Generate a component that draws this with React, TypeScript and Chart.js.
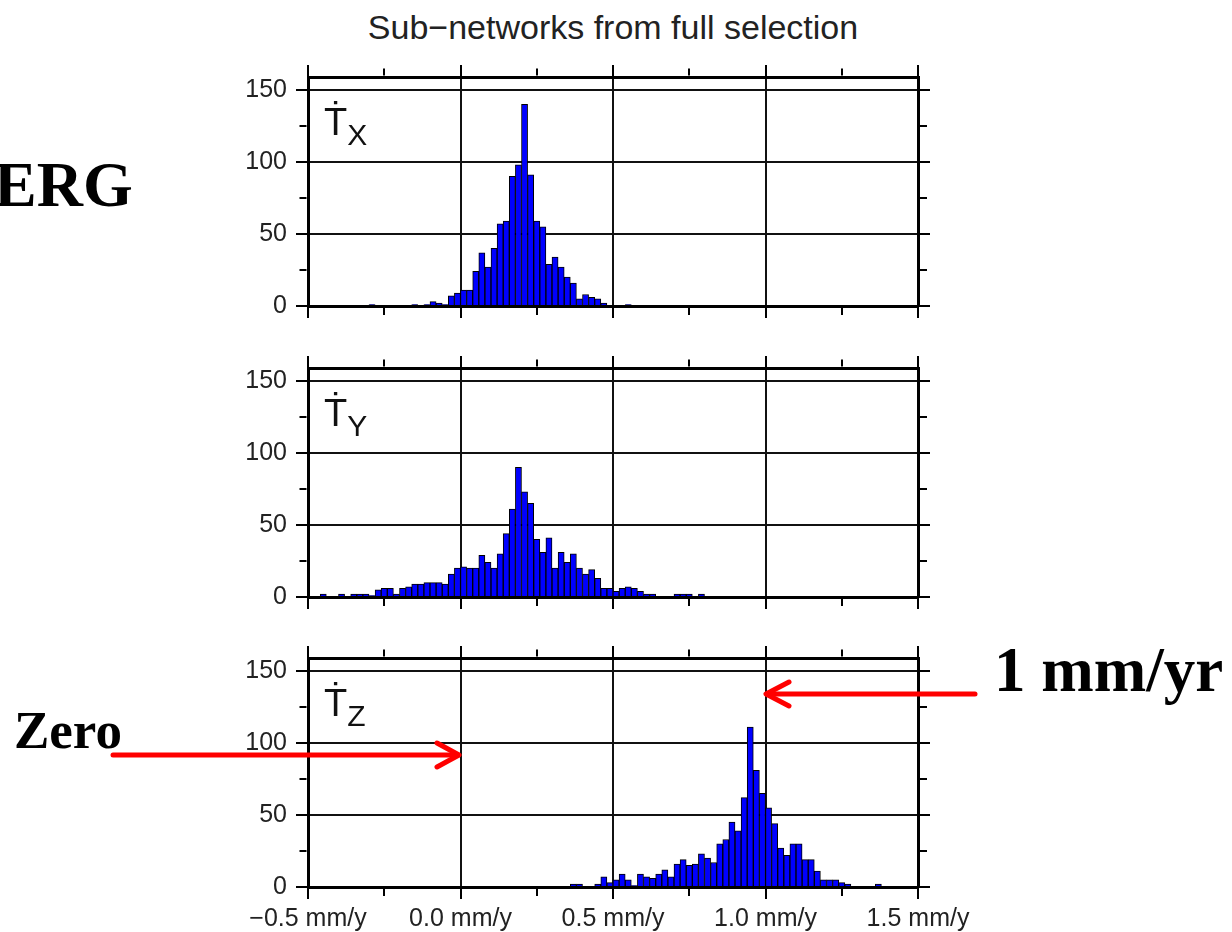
import React, { useEffect, useRef } from 'react';
import { Chart, registerables } from 'chart.js';

Chart.register(...registerables);

// ---- data ----
const BIN_START = -0.5;
const BIN_WIDTH = 0.02;

const TX_COUNTS = [
  0, 0, 0, 0, 0, 0, 0, 0, 0, 0,
  1, 0, 0, 0, 0, 0, 0, 1, 0, 1,
  3, 2, 1, 7, 9, 11, 11, 24, 37, 27,
  40, 57, 59, 90, 98, 140, 91, 59, 55, 29,
  34, 27, 20, 16, 5, 8, 6, 5, 2, 0,
  0, 0, 1, 0, 0, 0, 0, 0, 0, 0,
  0, 0, 0, 0, 0, 0, 0, 0, 0, 0,
  0, 0, 0, 0, 0, 0, 0, 0, 0, 0,
  0, 0, 0, 0, 0, 0, 0, 0, 0, 0,
  0, 0, 0, 0, 0, 0, 0, 0, 0, 0,
];

const TY_COUNTS = [
  0, 0, 2, 0, 0, 2, 0, 2, 2, 2,
  1, 5, 6, 6, 2, 6, 7, 9, 9, 10,
  10, 10, 9, 16, 20, 21, 20, 20, 29, 24,
  20, 30, 44, 61, 90, 73, 65, 40, 31, 41,
  20, 31, 24, 30, 20, 16, 19, 13, 6, 6,
  4, 6, 7, 6, 4, 2, 2, 0, 0, 0,
  2, 2, 2, 0, 2, 0, 0, 0, 0, 0,
  0, 0, 0, 0, 0, 0, 0, 0, 0, 0,
  0, 0, 0, 0, 0, 0, 0, 0, 0, 0,
  0, 0, 0, 0, 0, 0, 0, 0, 0, 0,
];

const TZ_COUNTS = [
  0, 0, 0, 0, 0, 0, 0, 0, 0, 0,
  0, 0, 0, 0, 0, 0, 0, 0, 0, 0,
  0, 0, 0, 0, 0, 0, 0, 0, 0, 0,
  0, 0, 0, 0, 0, 0, 0, 0, 0, 0,
  0, 0, 0, 2, 2, 0, 0, 2, 7, 3,
  5, 9, 5, 1, 9, 7, 6, 9, 12, 7,
  16, 19, 15, 16, 23, 20, 17, 30, 33, 45,
  39, 62, 111, 81, 65, 55, 44, 27, 22, 30,
  30, 19, 19, 11, 5, 5, 5, 3, 2, 0,
  0, 0, 0, 2, 0, 0, 0, 0, 0, 0,
];

const X_TICK_VALUES = [-0.5, 0, 0.5, 1, 1.5];
const X_TICK_LABELS = ['\u22120.5 mm/y', '0.0 mm/y', '0.5 mm/y', '1.0 mm/y', '1.5 mm/y'];
const Y_TICK_VALUES = [0, 50, 100, 150];
const Y_TICK_LABELS = ['0', '50', '100', '150'];
const PANEL_SUBSCRIPTS = ['X', 'Y', 'Z'];
const TITLE = 'Sub\u2212networks from full selection';

const X_MIN = -0.5;
const X_MAX = 1.5;
const Y_MAX = 159;

// ---- style ----
const SANS = "'Liberation Sans', Arial, Helvetica, sans-serif";
const SERIF = "'Liberation Serif', 'Times New Roman', Times, serif";
const GRID = '#111';
const CLEAR = 'rgba(0,0,0,0)';
const TL = 12;
const MINOR = 7;
const BORDER_W = 3;

const CANVAS_LEFT = 200;
const CANVAS_W = 800;
const AREA_LEFT = 108;
const AREA_RIGHT_GAP = 82;
const AREA_TOP_GAP = 17;
const AREA_H = 229;
const PANEL_TOPS = [77, 368, 658];

const near = (a: number, b: number) => Math.abs(a - b) < 1e-6;
const isMajorX = (v: number) => X_TICK_VALUES.some((t) => near(t, v));
const isMajorY = (v: number) => Y_TICK_VALUES.some((t) => near(t, v));

const fixBox = (s: any, w: number | null, h: number | null) => {
  if (w !== null) s.width = w;
  if (h !== null) s.height = h;
  s.paddingTop = 0;
  s.paddingBottom = 0;
  s.paddingLeft = 0;
  s.paddingRight = 0;
};

function makeConfig(counts: number[], showXLabels: boolean, bottomBox: number): any {
  const data = counts.map((c, i) => ({ x: BIN_START + BIN_WIDTH * (i + 0.5), y: c }));
  const innerMinorDash = [0, TL - BORDER_W / 2 - MINOR, MINOR, 100];
  const outerMinorDash = [MINOR, 100];
  const border = { display: true, color: '#000', width: BORDER_W, z: 1 };
  const tickFont = { family: SANS, size: 25 };

  return {
    type: 'bar',
    data: {
      datasets: [
        {
          data,
          xAxisID: 'x',
          yAxisID: 'y',
          backgroundColor: '#0000ff',
          borderColor: '#000',
          borderWidth: 1,
          barPercentage: 1,
          categoryPercentage: 1,
        },
      ],
    },
    options: {
      responsive: false,
      maintainAspectRatio: false,
      animation: false,
      events: [],
      layout: { padding: 0, autoPadding: false },
      plugins: {
        legend: { display: false },
        title: { display: false },
        tooltip: { enabled: false },
      },
      scales: {
        x: {
          type: 'linear',
          position: 'bottom',
          min: X_MIN,
          max: X_MAX,
          offset: false,
          afterFit: (s: any) => fixBox(s, null, bottomBox),
          ticks: {
            stepSize: 0.25,
            autoSkip: false,
            maxRotation: 0,
            minRotation: 0,
            padding: 5,
            font: tickFont,
            color: '#222',
            callback: (v: any) => {
              if (!showXLabels) return '';
              const i = X_TICK_VALUES.findIndex((t) => near(t, Number(v)));
              return i >= 0 ? X_TICK_LABELS[i] : '';
            },
          },
          grid: {
            offset: false,
            drawOnChartArea: true,
            lineWidth: 2,
            color: (ctx: any) => (ctx.tick && isMajorX(ctx.tick.value) ? GRID : CLEAR),
            tickColor: '#000',
            tickWidth: 2,
            tickLength: TL,
            tickBorderDash: (ctx: any) => (ctx.tick && !isMajorX(ctx.tick.value) ? outerMinorDash : []),
          },
          border,
        },
        x2: {
          type: 'linear',
          position: 'top',
          min: X_MIN,
          max: X_MAX,
          offset: false,
          afterFit: (s: any) => fixBox(s, null, AREA_TOP_GAP),
          ticks: { stepSize: 0.25, autoSkip: false, maxRotation: 0, padding: 0, callback: () => '' },
          grid: {
            offset: false,
            drawOnChartArea: false,
            lineWidth: 2,
            tickColor: '#000',
            tickWidth: 2,
            tickLength: TL,
            tickBorderDash: (ctx: any) => (ctx.tick && !isMajorX(ctx.tick.value) ? innerMinorDash : []),
          },
          border,
        },
        y: {
          type: 'linear',
          position: 'left',
          min: 0,
          max: Y_MAX,
          afterFit: (s: any) => fixBox(s, AREA_LEFT, null),
          ticks: {
            stepSize: 25,
            includeBounds: false,
            autoSkip: false,
            padding: 9,
            font: tickFont,
            color: '#222',
            callback: (v: any) => {
              const i = Y_TICK_VALUES.findIndex((t) => near(t, Number(v)));
              return i >= 0 ? Y_TICK_LABELS[i] : '';
            },
          },
          grid: {
            drawOnChartArea: true,
            lineWidth: 2,
            color: (ctx: any) => (ctx.tick && isMajorY(ctx.tick.value) ? GRID : CLEAR),
            tickColor: '#000',
            tickWidth: 2,
            tickLength: TL,
            tickBorderDash: (ctx: any) => (ctx.tick && !isMajorY(ctx.tick.value) ? innerMinorDash : []),
          },
          border,
        },
        y2: {
          type: 'linear',
          position: 'right',
          min: 0,
          max: Y_MAX,
          afterFit: (s: any) => fixBox(s, AREA_RIGHT_GAP, null),
          ticks: { stepSize: 25, includeBounds: false, autoSkip: false, padding: 0, callback: () => '' },
          grid: {
            drawOnChartArea: false,
            lineWidth: 2,
            tickColor: '#000',
            tickWidth: 2,
            tickLength: TL,
            tickBorderDash: (ctx: any) => (ctx.tick && !isMajorY(ctx.tick.value) ? outerMinorDash : []),
          },
          border,
        },
      },
    },
  };
}

function Panel({ counts, areaTop, height, showXLabels }: { counts: number[]; areaTop: number; height: number; showXLabels: boolean }) {
  const ref = useRef<HTMLCanvasElement>(null);
  const bottomBox = height - AREA_TOP_GAP - AREA_H;
  useEffect(() => {
    const chart = new Chart(ref.current as HTMLCanvasElement, makeConfig(counts, showXLabels, bottomBox));
    return () => chart.destroy();
  }, []);
  return (
    <canvas
      ref={ref}
      width={CANVAS_W}
      height={height}
      style={{ position: 'absolute', left: CANVAS_LEFT, top: areaTop - AREA_TOP_GAP, width: CANVAS_W, height }}
    />
  );
}

function PanelLabel({ sub, offset }: { sub: string; offset: number }) {
  return (
    <div
      style={{
        position: 'absolute',
        left: 324,
        top: 103 + offset,
        fontFamily: SANS,
        fontSize: 38,
        lineHeight: '38px',
        color: '#111',
        whiteSpace: 'nowrap',
      }}
    >
      {'\u1E6A'}
      <span style={{ fontSize: 30, lineHeight: '30px', position: 'relative', top: 10 }}>{sub}</span>
    </div>
  );
}

export default function App() {
  const counts = [TX_COUNTS, TY_COUNTS, TZ_COUNTS];
  return (
    <div
      style={{
        position: 'absolute',
        left: 0,
        top: 0,
        width: 1232,
        height: 932,
        overflow: 'hidden',
        background: '#fff',
      }}
    >
      <div
        style={{
          position: 'absolute',
          left: 213,
          width: 800,
          top: 10,
          textAlign: 'center',
          fontFamily: SANS,
          fontSize: 34,
          lineHeight: '34px',
          color: '#222',
          whiteSpace: 'nowrap',
        }}
      >
        {TITLE}
      </div>

      {counts.map((c, i) => (
        <Panel
          key={i}
          counts={c}
          areaTop={PANEL_TOPS[i]}
          height={i === 2 ? 932 - (PANEL_TOPS[2] - AREA_TOP_GAP) : 280}
          showXLabels={i === 2}
        />
      ))}

      {PANEL_SUBSCRIPTS.map((s, i) => (
        <PanelLabel key={s} sub={s} offset={PANEL_TOPS[i] - PANEL_TOPS[0]} />
      ))}

      <div
        style={{
          position: 'absolute',
          left: -6,
          top: 153,
          fontFamily: SERIF,
          fontWeight: 'bold',
          fontSize: 64,
          lineHeight: '64px',
          color: '#000',
          whiteSpace: 'nowrap',
        }}
      >
        ERG
      </div>
      <div
        style={{
          position: 'absolute',
          left: 14,
          top: 704,
          fontFamily: SERIF,
          fontWeight: 'bold',
          fontSize: 53,
          lineHeight: '53px',
          color: '#000',
          whiteSpace: 'nowrap',
        }}
      >
        Zero
      </div>
      <div
        style={{
          position: 'absolute',
          left: 994,
          top: 639,
          fontFamily: SERIF,
          fontWeight: 'bold',
          fontSize: 63,
          lineHeight: '63px',
          color: '#000',
          whiteSpace: 'nowrap',
        }}
      >
        1 mm/yr
      </div>

      <svg
        width={1232}
        height={932}
        style={{ position: 'absolute', left: 0, top: 0, pointerEvents: 'none' }}
      >
        <g stroke="#ff0000" strokeWidth={5} strokeLinecap="round" strokeLinejoin="round" fill="none">
          <line x1={113} y1={755} x2={458} y2={755} />
          <polyline points="437,743 459,755 437,767" />
          <line x1={975} y1={694} x2={767} y2={694} />
          <polyline points="789,682 766,694 789,706" />
        </g>
      </svg>
    </div>
  );
}
